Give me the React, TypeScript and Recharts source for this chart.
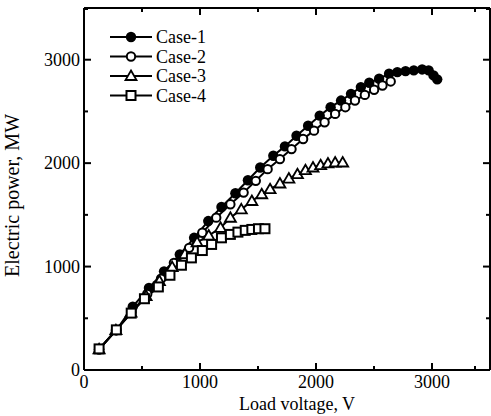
import { Line, LineChart, XAxis, YAxis } from 'recharts';

// Load voltage (V) and electric power (MW)
const case1V = [130, 280, 420, 560, 690, 826, 949, 1071, 1185, 1305, 1413, 1519, 1632, 1732, 1832, 1932, 2032, 2126, 2216, 2302, 2387, 2459, 2544, 2630, 2701, 2772, 2843, 2915, 2971, 3013, 3045];
const case1P = [200, 385, 612, 793, 954, 1117, 1278, 1440, 1576, 1709, 1835, 1958, 2071, 2162, 2265, 2362, 2459, 2541, 2605, 2670, 2735, 2777, 2816, 2864, 2880, 2890, 2897, 2906, 2897, 2848, 2810];

const case2V = [130, 275, 410, 545, 664, 775, 906, 1020, 1140, 1262, 1376, 1481, 1583, 1689, 1789, 1889, 1983, 2074, 2165, 2253, 2336, 2421, 2501, 2573, 2644];
const case2P = [200, 385, 560, 735, 883, 1036, 1181, 1327, 1473, 1602, 1715, 1829, 1942, 2039, 2136, 2233, 2314, 2395, 2476, 2541, 2605, 2660, 2709, 2751, 2790];

const case3V = [130, 275, 405, 535, 650, 760, 870, 975, 1075, 1177, 1262, 1356, 1447, 1532, 1604, 1689, 1766, 1840, 1909, 1974, 2040, 2103, 2165, 2230];
const case3P = [200, 385, 555, 715, 860, 995, 1120, 1235, 1300, 1375, 1472, 1553, 1634, 1699, 1748, 1803, 1851, 1893, 1932, 1958, 1980, 1997, 2006, 2006];

const case4V = [130, 279, 407, 521, 641, 741, 840, 926, 1020, 1100, 1185, 1262, 1327, 1390, 1447, 1504, 1560];
const case4P = [204, 388, 550, 689, 803, 916, 1013, 1084, 1155, 1214, 1278, 1311, 1333, 1350, 1359, 1366, 1366];

const ticks = [0, 500, 1000, 1500, 2000, 2500, 3000, 3500];
const seriesNames = ['Case-1', 'Case-2', 'Case-3', 'Case-4'];

const toPoints = (vs: number[], ps: number[]) => vs.map((v, i) => ({ v, p: ps[i] }));

const series = [
  { name: seriesNames[0], data: toPoints(case1V, case1P), shape: 'filled' },
  { name: seriesNames[1], data: toPoints(case2V, case2P), shape: 'circle' },
  { name: seriesNames[2], data: toPoints(case3V, case3P), shape: 'triangle' },
  { name: seriesNames[3], data: toPoints(case4V, case4P), shape: 'square' },
];

const FONT = '"Liberation Serif", "Times New Roman", serif';

function Marker({ cx, cy, shape }: { cx: number; cy: number; shape: string }) {
  if (shape === 'filled') return <circle cx={cx} cy={cy} r={5.2} fill="#000" />;
  if (shape === 'circle')
    return <circle cx={cx} cy={cy} r={4.2} fill="#fff" stroke="#000" strokeWidth={2} />;
  if (shape === 'triangle')
    return (
      <polygon
        points={`${cx},${cy - 5.5} ${cx + 5.5},${cy + 4} ${cx - 5.5},${cy + 4}`}
        fill="#fff"
        stroke="#000"
        strokeWidth={1.8}
      />
    );
  return <rect x={cx - 4.5} y={cy - 4.5} width={9} height={9} fill="#fff" stroke="#000" strokeWidth={2} />;
}

function tickLen(v: number) {
  return v % 1000 === 0 ? 7 : 4;
}

function BottomTick(props: any) {
  const { x, y, payload } = props;
  const v = payload.value;
  return (
    <g>
      <line x1={x} y1={y} x2={x} y2={y - tickLen(v)} stroke="#000" strokeWidth={2} />
      {v % 1000 === 0 && v < 3500 && (
        <text x={x} y={y + 18} textAnchor="middle" fontSize={18} fontFamily={FONT} fill="#000">
          {v}
        </text>
      )}
    </g>
  );
}

function LeftTick(props: any) {
  const { x, y, payload } = props;
  const v = payload.value;
  return (
    <g>
      <line x1={x} y1={y} x2={x + tickLen(v)} y2={y} stroke="#000" strokeWidth={2} />
      {v % 1000 === 0 && v < 3500 && (
        <text x={x - 4} y={y + 6} textAnchor="end" fontSize={18} fontFamily={FONT} fill="#000">
          {v}
        </text>
      )}
    </g>
  );
}

function TopTick(props: any) {
  const { x, y, payload } = props;
  return <line x1={x} y1={y} x2={x} y2={y + tickLen(payload.value)} stroke="#000" strokeWidth={2} />;
}

function RightTick(props: any) {
  const { x, y, payload } = props;
  return <line x1={x} y1={y} x2={x - tickLen(payload.value)} y2={y} stroke="#000" strokeWidth={2} />;
}

function LegendBox() {
  return (
    <svg width={130} height={80} style={{ position: 'absolute', left: 108, top: 28 }}>
      {series.map((s, i) => {
        const y = 9 + i * 19.5;
        return (
          <g key={s.name}>
            <line x1={2} y1={y} x2={44} y2={y} stroke="#000" strokeWidth={2} />
            <Marker cx={23} cy={y} shape={s.shape} />
            <text x={48} y={y + 6} fontSize={18} fontFamily={FONT} fill="#000">
              {s.name}
            </text>
          </g>
        );
      })}
    </svg>
  );
}

export default function App() {
  return (
    <div style={{ position: 'absolute', left: 0, top: 0, width: 491, height: 416, background: '#fff' }}>
      <LineChart width={491} height={416} margin={{ top: 7, right: 0, bottom: 0, left: 0 }}>
        <XAxis
          dataKey="v"
          type="number"
          domain={[0, 3500]}
          ticks={ticks}
          tickSize={0}
          tickMargin={0}
          tick={<BottomTick />}
          height={46}
          stroke="#000"
          strokeWidth={2}
          allowDuplicatedCategory={false}
          label={{ value: 'Load voltage, V', position: 'insideBottom', offset: 6, dx: 10, fontSize: 18, fontFamily: FONT, fill: '#000' }}
        />
        <XAxis
          xAxisId="top"
          dataKey="v"
          orientation="top"
          type="number"
          domain={[0, 3500]}
          ticks={ticks}
          tickSize={0}
          tickMargin={0}
          tick={<TopTick />}
          height={1}
          stroke="#000"
          strokeWidth={2}
          allowDuplicatedCategory={false}
        />
        <YAxis
          type="number"
          domain={[0, 3500]}
          ticks={ticks}
          tickSize={0}
          tickMargin={0}
          tick={<LeftTick />}
          width={84}
          stroke="#000"
          strokeWidth={2}
          label={{ value: 'Electric power, MW', angle: -90, position: 'insideLeft', offset: 12, dy: 88, fontSize: 20, fontFamily: FONT, fill: '#000' }}
        />
        <YAxis
          yAxisId="right"
          orientation="right"
          type="number"
          domain={[0, 3500]}
          ticks={ticks}
          tickSize={0}
          tickMargin={0}
          tick={<RightTick />}
          width={1}
          stroke="#000"
          strokeWidth={2}
        />
        {/* invisible series so the top and right frame axes are drawn */}
        <Line
          xAxisId="top"
          yAxisId="right"
          data={series[0].data}
          dataKey="p"
          stroke="none"
          dot={false}
          activeDot={false}
          legendType="none"
          isAnimationActive={false}
        />
        {series.map((s) => (
          <Line
            key={s.name}
            data={s.data}
            dataKey="p"
            name={s.name}
            stroke="#000"
            strokeWidth={2}
            isAnimationActive={false}
            dot={(d: any) => <Marker key={d.index} cx={d.cx} cy={d.cy} shape={s.shape} />}
          />
        ))}
      </LineChart>
      <LegendBox />
    </div>
  );
}
